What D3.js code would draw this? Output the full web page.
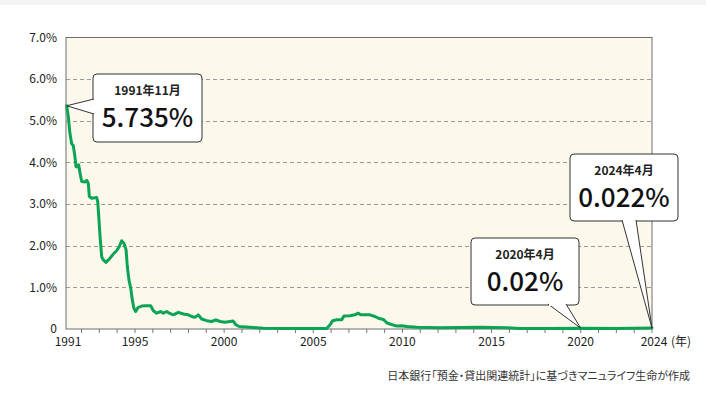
<!DOCTYPE html>
<html>
<head>
<meta charset="utf-8">
<style>
  body { margin: 0; background: #fff; }
  svg { display: block; font-family: "Noto Sans CJK JP", "Noto Sans", sans-serif; }
  .src { font-feature-settings: "palt"; }
</style>
</head>
<body>
<svg width="706" height="398"></svg>
<script src="https://d3js.org/d3.v7.min.js"></script>
<script>
// 普通預金金利の推移 (picture readings, decimal year / %)
var years = [1991.17, 1991.26, 1991.35, 1991.45, 1991.54, 1991.63, 1991.69, 1991.79, 1991.84, 1991.92,
  1992.01, 1992.20, 1992.29, 1992.38, 1992.44, 1992.57, 1992.85, 1992.91, 1992.98,
  1993.04, 1993.13, 1993.22, 1993.37, 1993.60, 1993.78, 1993.97, 1994.12, 1994.25, 1994.38, 1994.50,
  1994.57, 1994.66, 1994.76, 1994.85, 1994.94, 1995.04, 1995.18, 1995.38, 1995.56, 1995.88,
  1996.03, 1996.22, 1996.44, 1996.59, 1996.78, 1996.92, 1997.15, 1997.43, 1997.71, 1997.99,
  1998.18, 1998.36, 1998.55, 1998.74, 1999.02, 1999.30, 1999.54, 1999.77, 2000.05, 2000.33,
  2000.51, 2000.66, 2000.85, 2001.45, 2002.20, 2003.13, 2004.50, 2005.75, 2005.94, 2006.09,
  2006.31, 2006.59, 2006.72, 2007.06, 2007.34, 2007.52, 2007.66, 2007.90, 2008.18, 2008.46,
  2008.65, 2008.93, 2009.12, 2009.30, 2009.68, 2009.96, 2010.24, 2010.80, 2012.11, 2014.35,
  2015.85, 2016.60, 2018.30, 2020.00, 2022.00, 2024.00];
var rates = [5.36, 5.10, 4.70, 4.45, 4.40, 4.14, 3.90, 3.89, 3.94, 3.74,
  3.54, 3.53, 3.57, 3.50, 3.18, 3.14, 3.16, 3.06, 2.62,
  2.22, 1.74, 1.66, 1.60, 1.70, 1.80, 1.88, 1.98, 2.12, 2.06, 1.90,
  1.50, 1.18, 0.98, 0.70, 0.50, 0.42, 0.52, 0.55, 0.56, 0.56,
  0.44, 0.38, 0.42, 0.38, 0.42, 0.38, 0.34, 0.40, 0.36, 0.34,
  0.30, 0.28, 0.34, 0.24, 0.20, 0.18, 0.22, 0.18, 0.16, 0.18,
  0.19, 0.10, 0.06, 0.04, 0.02, 0.01, 0.01, 0.01, 0.10, 0.20,
  0.22, 0.22, 0.31, 0.32, 0.34, 0.38, 0.34, 0.34, 0.34, 0.30,
  0.26, 0.23, 0.15, 0.12, 0.07, 0.08, 0.06, 0.04, 0.03, 0.04,
  0.03, 0.01, 0.01, 0.02, 0.01, 0.022];

var yTicks = [0, 1, 2, 3, 4, 5, 6, 7];
var xLabelYears = [1991, 1995, 2000, 2005, 2010, 2015, 2020, 2024];

var calloutYears = [1991.17, 2020.0, 2024.0];
var calloutRates = [5.36, 0.02, 0.022];
var calloutTitles = ["1991年11月", "2020年4月", "2024年4月"];
var calloutValues = ["5.735%", "0.02%", "0.022%"];

var sourceText = "日本銀行「預金・貸出関連統計」に基づきマニュライフ生命が作成";

var svg = d3.select("svg");

// top strip
svg.append("rect").attr("x", 0).attr("y", 0).attr("width", 706).attr("height", 5).attr("fill", "#f4f4f4");

var plotL = 66, plotR = 652, plotT = 37.5, plotB = 329;

var x = d3.scaleLinear().domain([1991.13, 2024]).range([plotL, plotR]);
var y = d3.scaleLinear().domain([0, 7]).range([plotB, plotT]);

// plot background
svg.append("rect")
  .attr("x", plotL).attr("y", plotT)
  .attr("width", plotR - plotL).attr("height", plotB - plotT)
  .attr("fill", "#fcf9ec");

// gridlines
svg.append("g").selectAll("line")
  .data(yTicks.filter(function(d){ return d > 0 && d < 7; }))
  .enter().append("line")
  .attr("x1", plotL).attr("x2", plotR)
  .attr("y1", function(d){ return Math.round(y(d)) + 0.5; }).attr("y2", function(d){ return Math.round(y(d)) + 0.5; })
  .attr("stroke", "#9a9a9a").attr("stroke-dasharray", "4,3").attr("stroke-width", 1);

// y labels
svg.append("g").selectAll("text")
  .data(yTicks)
  .enter().append("text")
  .attr("x", 57).attr("y", function(d){ return y(d); })
  .attr("dy", "0.35em").attr("text-anchor", "end")
  .attr("font-size", 12).attr("fill", "#222")
  .text(function(d){ return d === 0 ? "0" : d.toFixed(1) + "%"; });

// x tick marks every year
var tickYears = d3.range(1992, 2025);
svg.append("g").selectAll("line")
  .data(tickYears)
  .enter().append("line")
  .attr("x1", function(d){ return x(d); }).attr("x2", function(d){ return x(d); })
  .attr("y1", plotB).attr("y2", plotB + 4)
  .attr("stroke", "#777").attr("stroke-width", 1);

svg.append("g").selectAll("text")
  .data(xLabelYears)
  .enter().append("text")
  .attr("x", function(d){ return d === 1991 ? plotL + 2 : x(d) + (d === 2024 ? 2 : 0); })
  .attr("y", 346).attr("text-anchor", "middle")
  .attr("font-size", 12).attr("fill", "#222")
  .text(function(d){ return d; });

svg.append("text").attr("x", 671).attr("y", 346)
  .attr("font-size", 12).attr("fill", "#222").text("(年)");

// border
svg.append("rect")
  .attr("x", plotL).attr("y", plotT)
  .attr("width", plotR - plotL).attr("height", plotB - plotT)
  .attr("fill", "none").attr("stroke", "#6e6e6e").attr("stroke-width", 1);

// line
var pts = years.map(function(d, i){ return [d, rates[i]]; });
var line = d3.line().x(function(d){ return x(d[0]); }).y(function(d){ return y(d[1]); });
svg.append("path")
  .attr("d", line(pts))
  .attr("fill", "none").attr("stroke", "#0ba454")
  .attr("stroke-width", 3).attr("stroke-linejoin", "round").attr("stroke-linecap", "round");

// callouts: box + pointer
var boxes = [
  { x: 93, y: 74, w: 109, h: 68, side: "left", b1: 99, b2: 114 },
  { x: 471, y: 238, w: 108, h: 67, side: "bottom", b1: 548, b2: 566 },
  { x: 570, y: 154, w: 108, h: 67, side: "bottom", b1: 622, b2: 636 }
];

var cg = svg.append("g");
boxes.forEach(function(b, i){
  var tx = x(calloutYears[i]), ty = y(calloutRates[i]);
  var g = cg.append("g");
  g.append("rect")
    .attr("x", b.x).attr("y", b.y).attr("width", b.w).attr("height", b.h)
    .attr("rx", 4).attr("fill", "#fff").attr("stroke", "#333").attr("stroke-width", 1);
  var p;
  if (b.side === "left") {
    p = [[b.x + 1, b.b1], [tx, ty], [b.x + 1, b.b2]];
  } else {
    p = [[b.b1, b.y + b.h - 1], [tx, ty], [b.b2, b.y + b.h - 1]];
  }
  g.append("path").attr("d", d3.line()(p))
    .attr("fill", "#fff").attr("stroke", "#333").attr("stroke-width", 1);
  // cover the box border where the pointer joins
  if (b.side === "left") {
    g.append("line").attr("x1", b.x).attr("x2", b.x).attr("y1", b.b1 + 1).attr("y2", b.b2 - 1)
      .attr("stroke", "#fff").attr("stroke-width", 2);
  } else {
    g.append("line").attr("x1", b.b1 + 1).attr("x2", b.b2 - 1)
      .attr("y1", b.y + b.h).attr("y2", b.y + b.h)
      .attr("stroke", "#fff").attr("stroke-width", 2);
  }
  var cx = b.x + b.w / 2;
  g.append("text").attr("x", cx).attr("y", b.y + 17).attr("dy", "0.35em")
    .attr("text-anchor", "middle").attr("font-size", 12).attr("font-weight", "bold")
    .attr("fill", "#222").text(calloutTitles[i]);
  g.append("text").attr("x", cx).attr("y", b.y + 44).attr("dy", "0.35em")
    .attr("text-anchor", "middle").attr("font-size", 26).attr("font-weight", 500)
    .attr("fill", "#111").text(calloutValues[i]);
});

// source
svg.append("text").attr("class", "src").attr("x", 690).attr("y", 380)
  .attr("text-anchor", "end").attr("font-size", 11).attr("fill", "#333")
  .text(sourceText);
</script>
</body>
</html>
